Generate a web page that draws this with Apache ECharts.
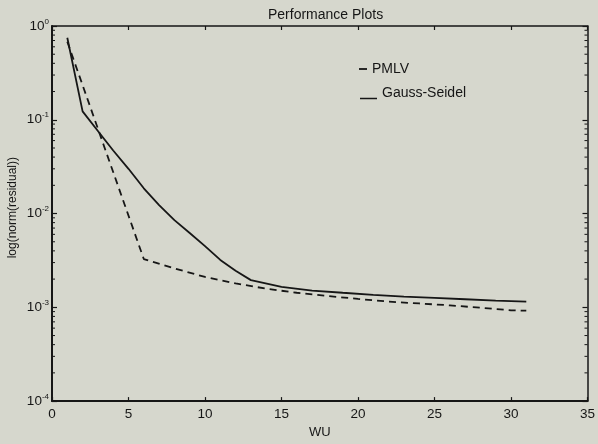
<!DOCTYPE html>
<html>
<head>
<meta charset="utf-8">
<style>
  html, body { margin: 0; padding: 0; background: #d6d7cd; }
  #chart { width: 598px; height: 444px; }
</style>
<script src="https://cdn.jsdelivr.net/npm/echarts@6/dist/echarts.min.js"></script>
</head>
<body>
<div id="chart"></div>
<script>
// Residual norm history against work units for the two solvers
const pmlvWU = [1, 6, 8, 10, 12, 14, 16, 18, 20, 22, 24, 26, 28, 30, 31];
const pmlvResidual = [0.68, 0.00327, 0.0026, 0.00211, 0.0018, 0.00158, 0.00143, 0.00132,
  0.00123, 0.00115, 0.0011, 0.00105, 0.00099, 0.00093, 0.00092];

const gsWU = [1, 2, 3, 4, 5, 6, 7, 8, 9, 10, 11, 12, 13, 15, 17, 19, 21, 23, 25, 27, 29, 31];
const gsResidual = [0.75, 0.123, 0.076, 0.047, 0.030, 0.0186, 0.0123, 0.0085, 0.0062, 0.0045,
  0.0032, 0.00245, 0.00195, 0.00165, 0.00151, 0.00143, 0.00136, 0.0013, 0.00126, 0.00122,
  0.00118, 0.00115];

// Minor tick positions of the logarithmic y axis
const yMinorTicks = [
  2e-4, 3e-4, 4e-4, 5e-4, 6e-4, 7e-4, 8e-4, 9e-4,
  2e-3, 3e-3, 4e-3, 5e-3, 6e-3, 7e-3, 8e-3, 9e-3,
  2e-2, 3e-2, 4e-2, 5e-2, 6e-2, 7e-2, 8e-2, 9e-2,
  2e-1, 3e-1, 4e-1, 5e-1, 6e-1, 7e-1, 8e-1, 9e-1
];

const xTickInterval = 5;
const ink = '#161616';
const font = 'Liberation Sans, Arial, Helvetica, sans-serif';

const chart = echarts.init(document.getElementById('chart'));

function zip(xs, ys) { return xs.map((x, i) => [x, ys[i]]); }

const supLabel = v => {
  const e = Math.round(Math.log10(v));
  return '{b|10}{s|' + e + '}';
};

chart.setOption({
  backgroundColor: '#d6d7cd',
  animation: false,
  title: {
    text: 'Performance Plots',
    left: 263, top: 3,
    textStyle: { fontFamily: font, fontSize: 14, fontWeight: 'normal', color: ink }
  },
  legend: [
    {
      data: ['PMLV'], left: 354, top: 57, icon: 'rect', itemWidth: 8, itemHeight: 1.8,
      textStyle: { fontFamily: font, fontSize: 14, color: ink }, selectedMode: false
    },
    {
      data: ['Gauss-Seidel'], left: 355, top: 81, icon: 'rect', itemWidth: 17, itemHeight: 1.5,
      formatter: '{t|{name}}',
      textStyle: {
        fontFamily: font, fontSize: 14, color: ink,
        rich: { t: { fontFamily: font, fontSize: 14, color: ink, padding: [0, 0, 11, 0] } }
      },
      selectedMode: false
    }
  ],
  grid: { left: 52, right: 6, top: 26, bottom: 36 },
  xAxis: [
    {
      type: 'value', min: 0, max: 35, interval: xTickInterval, position: 'bottom',
      name: 'WU', nameLocation: 'middle', nameGap: 21,
      nameTextStyle: { fontFamily: font, fontSize: 13, color: ink },
      axisLine: { onZero: false, lineStyle: { color: ink, width: 2 } },
      axisTick: { inside: true, length: 4, lineStyle: { color: ink, width: 1.2 } },
      axisLabel: { fontFamily: font, fontSize: 13.5, color: ink, margin: 6 },
      splitLine: { show: false }
    },
    {
      type: 'value', min: 0, max: 35, interval: xTickInterval, position: 'top',
      axisLine: { onZero: false, lineStyle: { color: ink, width: 1.5 } },
      axisTick: { inside: true, length: 4, lineStyle: { color: ink, width: 1.2 } },
      axisLabel: { show: false },
      splitLine: { show: false }
    }
  ],
  yAxis: [
    {
      type: 'log', logBase: 10, min: 1e-4, max: 1, position: 'left',
      axisLine: { onZero: false, lineStyle: { color: ink, width: 2 } },
      axisTick: { inside: true, length: 5, lineStyle: { color: ink, width: 1.2 } },
      axisLabel: {
        margin: 3, formatter: supLabel,
        rich: {
          b: { fontFamily: font, fontSize: 13.5, color: ink },
          s: { fontFamily: font, fontSize: 8, color: ink, padding: [0, 0, 9, 0] }
        }
      },
      splitLine: { show: false }
    },
    {
      type: 'log', logBase: 10, min: 1e-4, max: 1, position: 'right',
      axisLine: { onZero: false, lineStyle: { color: ink, width: 1.5 } },
      axisTick: { inside: true, length: 5, lineStyle: { color: ink, width: 1.2 } },
      axisLabel: { show: false },
      splitLine: { show: false }
    }
  ],
  graphic: [
    {
      type: 'text', left: 7, top: 157, rotation: Math.PI / 2,
      style: { text: 'log(norm(residual))', font: '12px ' + font, fill: ink }
    }
  ],
  series: [
    {
      name: 'PMLV', type: 'line', data: zip(pmlvWU, pmlvResidual),
      showSymbol: false, symbol: 'none', smooth: false,
      lineStyle: { color: ink, width: 1.8, type: [7, 5] },
      itemStyle: { color: ink }
    },
    {
      name: 'Gauss-Seidel', type: 'line', data: zip(gsWU, gsResidual),
      showSymbol: false, symbol: 'none', smooth: false,
      lineStyle: { color: ink, width: 1.8, type: 'solid' },
      itemStyle: { color: ink }
    },
    {
      // short inward minor ticks on both vertical frame edges
      name: 'yMinor', type: 'custom', silent: true, clip: false,
      data: yMinorTicks.map(v => [0, v]),
      renderItem: (params, api) => {
        const v = api.value(1);
        const l = api.coord([0, v]);
        const r = api.coord([35, v]);
        const st = { stroke: ink, lineWidth: 1 };
        return {
          type: 'group',
          children: [
            { type: 'line', shape: { x1: l[0], y1: l[1], x2: l[0] + 3, y2: l[1] }, style: st },
            { type: 'line', shape: { x1: r[0], y1: r[1], x2: r[0] - 3, y2: r[1] }, style: st }
          ]
        };
      }
    }
  ]
});
</script>
</body>
</html>
